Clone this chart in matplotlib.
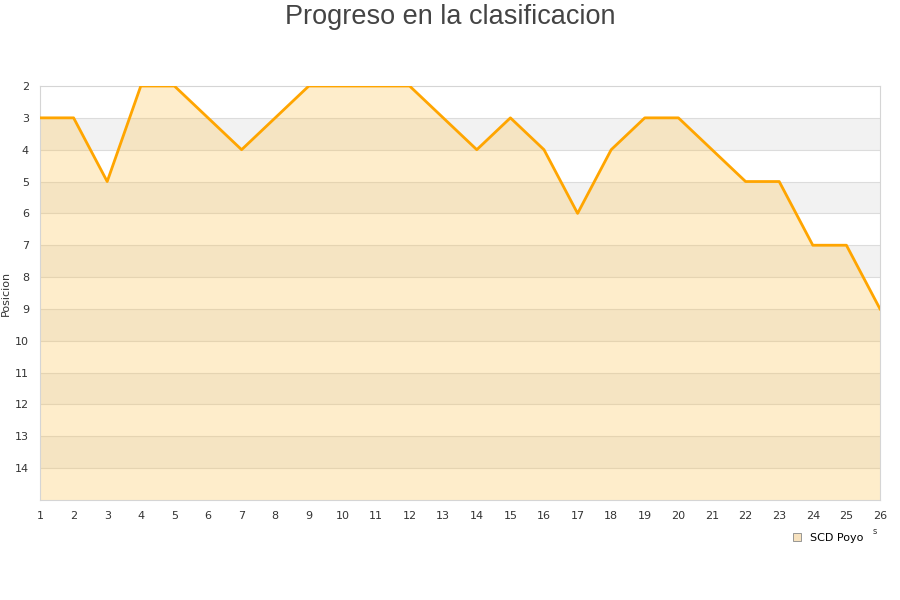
import matplotlib
matplotlib.use('agg')
import matplotlib.pyplot as plt
from matplotlib.patches import Patch

# jornadas y posicion del equipo
jornadas = list(range(1, 27))
posicion = [3, 3, 5, 2, 2, 3, 4, 3, 2, 2, 2, 2, 3, 4, 3, 4, 6, 4, 3, 3, 4, 5, 5, 7, 7, 9]
y_ticks = list(range(2, 15))
equipo = 'SCD Poyo'

fig = plt.figure(figsize=(9, 6), dpi=100)
ax = fig.add_axes([40 / 900, 1 - 500 / 600, 840 / 900, 414 / 600])

# bandas grises alternas
for y0 in range(3, 15, 2):
    ax.axhspan(y0, y0 + 1, color='#f2f2f2', zorder=0, lw=0)
for y in range(3, 15):
    ax.axhline(y, color='#dcdcdc', lw=0.8, zorder=1)

ax.fill_between(jornadas, posicion, 15, color='#fcc557', alpha=0.31, lw=0, zorder=2)
ax.plot(jornadas, posicion, color='#ffa500', lw=2.0, zorder=3, solid_joinstyle='round')

ax.set_xlim(1, 26)
ax.set_ylim(15, 2)
ax.set_xticks(jornadas)
ax.set_yticks(y_ticks)
ax.tick_params(length=0, labelsize=8, colors='#333333', pad=8)
for s in ax.spines.values():
    s.set_color('#d5d5d5')
    s.set_linewidth(0.8)
ax.set_ylabel('Posicion', fontsize=8, color='#333333', labelpad=4)
ax.yaxis.set_label_coords(-0.035, 0.5)

fig.text(0.5, 0.993, 'Progreso en la clasificacion', ha='center', va='top',
         fontsize=19.5, color='#444444', family='Liberation Sans')
fig.text(875 / 900, 1 - 532 / 600, 's', fontsize=6, color='#333333', ha='center', va='center')

fig.legend(handles=[Patch(facecolor='#f7e2bf', edgecolor='#888888', lw=0.6, label=equipo)],
           loc='center', bbox_to_anchor=(828 / 900, 1 - 538 / 600), frameon=False,
           fontsize=8, handlelength=0.7, handleheight=0.7, handletextpad=0.8)

fig.savefig('out.png', dpi=100)
